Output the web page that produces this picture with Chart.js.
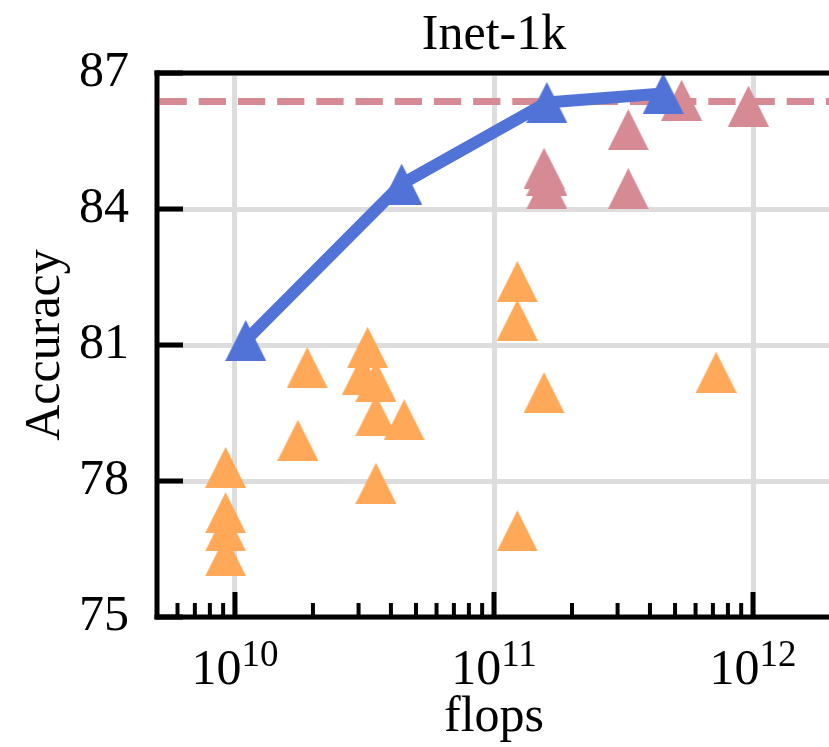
<!DOCTYPE html>
<html>
<head>
<meta charset="utf-8">
<script src="https://cdn.jsdelivr.net/npm/chart.js@4/dist/chart.umd.min.js"></script>
<style>
  html, body { margin: 0; padding: 0; overflow: hidden; background: #fff; }
  #wrap { width: 829px; height: 747px; overflow: hidden; }
</style>
</head>
<body>
<div id="wrap"><canvas id="chart" width="831" height="747"></canvas></div>
<script>
// values
const yTicks = [75, 78, 81, 84, 87];
const xMajor = [1e10, 1e11, 1e12];
const xMin = 5e9;
const xMax = 2e12;

// blue line (top series)
const blueFlops = [1.1e10, 4.4e10, 1.6e11, 4.5e11];
const blueAcc = [81.1, 84.55, 86.35, 86.55];

// pink triangles
const pinkFlops = [1.56e11, 1.6e11, 1.6e11, 3.3e11, 3.3e11, 5.3e11, 9.6e11];
const pinkAcc = [84.9, 84.75, 84.45, 85.75, 84.45, 86.4, 86.27];

// orange triangles
const orangeFlops = [9.2e9, 9.2e9, 9.2e9, 9.2e9, 1.9e10, 1.75e10, 3.25e10, 3.1e10, 3.5e10,
  3.5e10, 4.5e10, 3.5e10, 1.23e11, 1.23e11, 1.56e11, 1.23e11, 7.2e11];
const orangeAcc = [78.3, 77.3, 76.9, 76.35, 80.5, 78.9, 80.95, 80.35, 80.2,
  79.45, 79.35, 77.95, 82.4, 81.55, 79.95, 76.9, 80.4];

// dashed reference line
const refAcc = 86.37;

const SERIF = '"Liberation Serif", "DejaVu Serif", serif';
const BLUE = "#5173d8";
const PINK = "#d68a93";
const ORANGE = "#ffa857";
const GRID = "#dddddd";

function pts(xs, ys) {
  return xs.map((v, i) => ({ x: v, y: ys[i] }));
}

// matplotlib style "^" marker (as wide as it is tall)
function triangle(color) {
  const c = document.createElement("canvas");
  c.width = 41;
  c.height = 41;
  const g = c.getContext("2d");
  g.fillStyle = color;
  g.beginPath();
  g.moveTo(20.5, 0);
  g.lineTo(41, 41);
  g.lineTo(0, 41);
  g.closePath();
  g.fill();
  return c;
}

// inward ticks, spines and 10^n labels
const frame = {
  id: "frame",
  afterDatasetsDraw(chart) {
    const { ctx, chartArea: a, scales: { x, y } } = chart;
    ctx.save();
    ctx.strokeStyle = "#000";
    function seg(x1, y1, x2, y2) {
      ctx.beginPath();
      ctx.moveTo(x1, y1);
      ctx.lineTo(x2, y2);
      ctx.stroke();
    }
    // minor ticks
    ctx.lineWidth = 4;
    for (let e = 9; e <= 12; e++) {
      for (let m = 2; m <= 9; m++) {
        const v = m * Math.pow(10, e);
        if (v <= xMin || v >= xMax) continue;
        const px = x.getPixelForValue(v);
        seg(px, a.bottom, px, a.bottom - 14);
      }
    }
    ctx.lineWidth = 5;
    xMajor.forEach((v) => {
      const px = x.getPixelForValue(v);
      seg(px, a.bottom, px, a.bottom - 25);
    });
    yTicks.forEach((v) => {
      const py = y.getPixelForValue(v);
      seg(a.left, py, a.left + 26, py);
    });
    // spines
    seg(a.left, a.top - 2.5, a.left, a.bottom + 2.5);
    seg(a.left - 2.5, a.bottom, a.right, a.bottom);
    seg(a.left - 2.5, a.top, a.right, a.top);
    ctx.restore();
  },
  afterDraw(chart) {
    const { ctx, scales: { x } } = chart;
    ctx.save();
    ctx.fillStyle = "#000";
    ctx.textBaseline = "alphabetic";
    ctx.textAlign = "left";
    xMajor.forEach((v) => {
      const exp = String(Math.round(Math.log10(v)));
      ctx.font = "50px " + SERIF;
      const wb = ctx.measureText("10").width;
      ctx.font = "37px " + SERIF;
      const we = ctx.measureText(exp).width;
      const left = x.getPixelForValue(v) - (wb + we) / 2;
      ctx.font = "50px " + SERIF;
      ctx.fillText("10", left, 684);
      ctx.font = "37px " + SERIF;
      ctx.fillText(exp, left + wb, 666);
    });
    ctx.restore();
  },
};

new Chart(document.getElementById("chart").getContext("2d"), {
  type: "scatter",
  data: {
    datasets: [
      {
        label: "blue",
        type: "line",
        data: pts(blueFlops, blueAcc),
        borderColor: BLUE,
        backgroundColor: BLUE,
        borderWidth: 12,
        borderJoinStyle: "round",
        fill: false,
        tension: 0,
        pointStyle: triangle(BLUE),
        pointRadius: 20,
        clip: false,
      },
      {
        label: "pink",
        data: pts(pinkFlops, pinkAcc),
        pointStyle: triangle(PINK),
        pointRadius: 20,
        clip: false,
      },
      {
        label: "orange",
        data: pts(orangeFlops, orangeAcc),
        pointStyle: triangle(ORANGE),
        pointRadius: 20,
        clip: false,
      },
      {
        label: "ref",
        type: "line",
        data: [{ x: xMin, y: refAcc }, { x: xMax, y: refAcc }],
        borderColor: PINK,
        borderWidth: 7,
        borderDash: [27.3, 11.9],
        borderDashOffset: 36.7,
        borderCapStyle: "butt",
        pointRadius: 0,
        fill: false,
      },
    ],
  },
  options: {
    responsive: false,
    devicePixelRatio: 1,
    animation: false,
    layout: { padding: 0, autoPadding: false },
    plugins: {
      legend: { display: false },
      tooltip: { enabled: false },
      title: {
        display: true,
        fullSize: false,
        text: "Inet-1k",
        color: "#000",
        font: { family: SERIF, size: 50, weight: "normal" },
        padding: { top: 6, bottom: 7 },
      },
    },
    scales: {
      x: {
        type: "logarithmic",
        min: xMin,
        max: xMax,
        afterBuildTicks: (s) => {
          s.ticks = xMajor.map((v) => ({ value: v }));
        },
        afterFit: (s) => {
          s.height = 130;
        },
        grid: { color: GRID, lineWidth: 5, drawTicks: false },
        border: { display: false },
        ticks: { display: false },
        title: {
          display: true,
          text: "flops",
          color: "#000",
          font: { family: SERIF, size: 50 },
          padding: { top: 0, bottom: -1 },
        },
      },
      y: {
        min: 75,
        max: 87,
        afterBuildTicks: (s) => {
          s.ticks = yTicks.map((v) => ({ value: v }));
        },
        afterFit: (s) => {
          s.width = 157;
        },
        grid: { color: GRID, lineWidth: 5, drawTicks: false },
        border: { display: false },
        ticks: {
          color: "#000",
          font: { family: SERIF, size: 50 },
          padding: 28,
        },
        title: {
          display: true,
          text: "Accuracy",
          color: "#000",
          font: { family: SERIF, size: 50 },
          padding: { top: 16, bottom: 0 },
        },
      },
    },
  },
  plugins: [frame],
});
</script>
</body>
</html>
